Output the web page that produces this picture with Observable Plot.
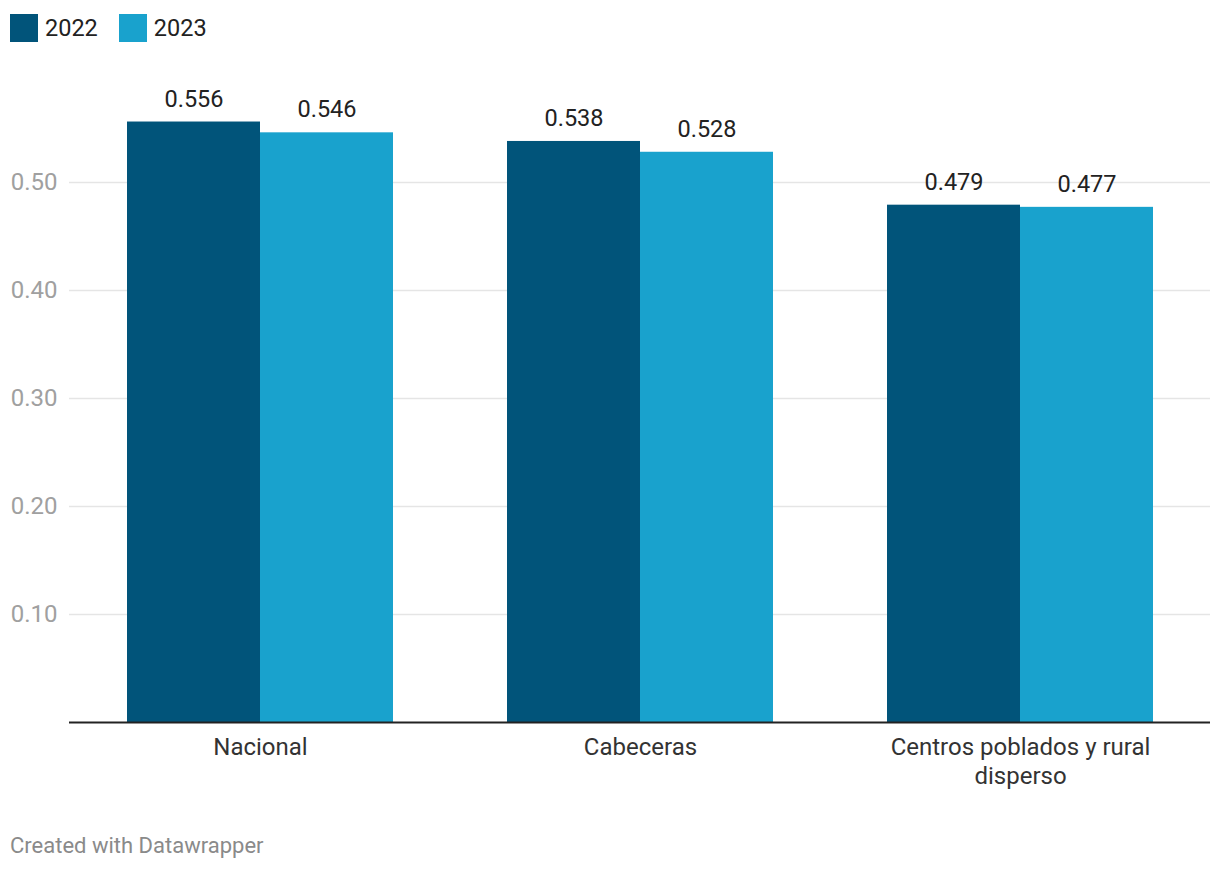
<!DOCTYPE html>
<html>
<head>
<meta charset="utf-8">
<script src="https://cdn.jsdelivr.net/npm/d3@7"></script>
<script src="https://cdn.jsdelivr.net/npm/@observablehq/plot@0.6"></script>
<style>
  html, body { margin: 0; padding: 0; background: #fff; }
  body { width: 1220px; height: 872px; position: relative; font-family: Roboto, sans-serif; overflow: hidden; }
  #legend { position: absolute; left: 10px; top: 14px; display: flex; align-items: center; font-size: 23.5px; color: #222; }
  .item { display: flex; align-items: center; margin-right: 21px; }
  .sw { width: 28px; height: 28px; margin-right: 7px; }
  .layer { position: absolute; left: 0; top: 52px; }
  .layer svg { background: transparent !important; }
  #credit { position: absolute; left: 10px; top: 833px; font-size: 22px; color: #8a8a8a; }
</style>
</head>
<body>
<div id="legend"></div>
<div id="grid" class="layer"></div>
<div id="bars" class="layer"></div>
<div id="base" class="layer"></div>
<div id="credit">Created with Datawrapper</div>
<script>
const categories = ["Nacional", "Cabeceras", "Centros poblados y rural disperso"];
const categoryLabels = ["Nacional", "Cabeceras", "Centros poblados y rural\ndisperso"];
const years = ["2022", "2023"];
const values2022 = [0.556, 0.538, 0.479];
const values2023 = [0.546, 0.528, 0.477];
const yTicks = [0.1, 0.2, 0.3, 0.4, 0.5];
const colors = ["#01547a", "#19a2cd"];

const seriesValues = [values2022, values2023];
const data = categories.flatMap((c, i) =>
  years.map((y, j) => ({category: c, year: y, value: seriesValues[j][i]}))
);

const legend = document.getElementById("legend");
years.forEach((y, j) => {
  const it = document.createElement("div");
  it.className = "item";
  it.innerHTML = `<div class="sw" style="background:${colors[j]}"></div><span>${y}</span>`;
  legend.appendChild(it);
});

const common = {
  width: 1220,
  height: 760,
  marginTop: 22,
  marginBottom: 90,
  marginLeft: 69,
  marginRight: 10,
  style: {fontFamily: "Roboto, sans-serif", fontSize: "24px", background: "transparent"},
  y: {domain: [0, 0.6], axis: null}
};

const gridPlot = Plot.plot({
  ...common,
  marks: [
    Plot.ruleY(yTicks, {y: d => d, stroke: "#e5e5e5", strokeWidth: 1.5}),
    Plot.text(yTicks, {y: d => d, text: d => d3.format(".2f")(d), frameAnchor: "left", textAnchor: "end", dx: -12, fill: "#a0a0a0", fontSize: 24})
  ]
});

const barPlot = Plot.plot({
  ...common,
  fx: {domain: categories, paddingInner: 0.3, paddingOuter: 0.15, axis: null, label: null},
  x: {domain: years, padding: 0, axis: null},
  color: {domain: years, range: colors},
  marks: [
    Plot.barY(data, {fx: "category", x: "year", y: "value", fill: "year"}),
    Plot.text(data, {fx: "category", x: "year", y: "value", text: d => d.value.toFixed(3), dy: -23, fill: "#222", fontSize: 23.5}),
    Plot.text(categories, {fx: d => d, text: d => categoryLabels[categories.indexOf(d)], frameAnchor: "bottom", lineAnchor: "top", dy: 13, lineHeight: 1.17, fill: "#333", fontSize: 24})
  ]
});

const basePlot = Plot.plot({
  ...common,
  marks: [
    Plot.ruleY([0], {stroke: "#222", strokeWidth: 2})
  ]
});

document.getElementById("grid").appendChild(gridPlot);
document.getElementById("bars").appendChild(barPlot);
document.getElementById("base").appendChild(basePlot);
</script>
</body>
</html>
